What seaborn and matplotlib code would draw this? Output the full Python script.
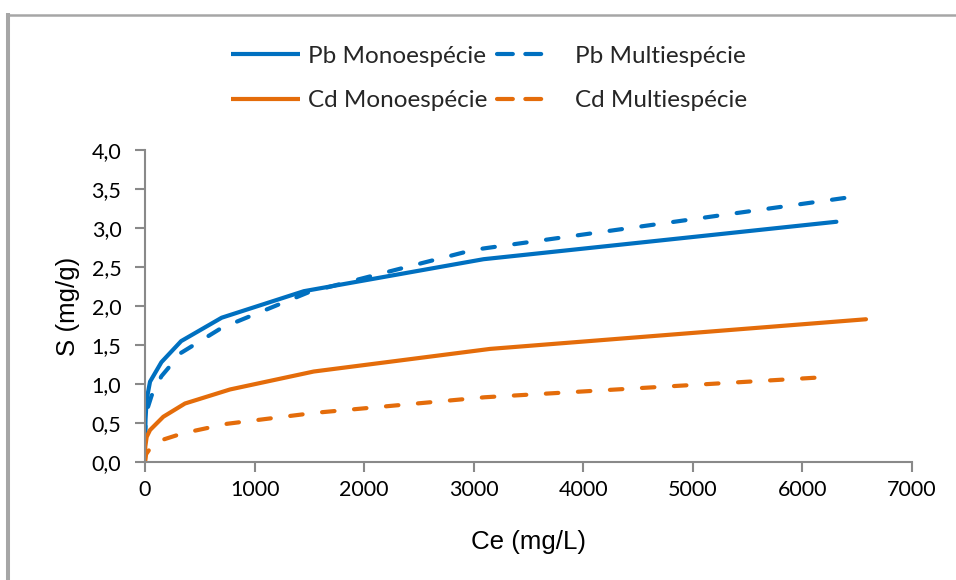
import matplotlib
matplotlib.use("Agg")
import matplotlib.pyplot as plt
from matplotlib.lines import Line2D
from matplotlib.ticker import FuncFormatter, MultipleLocator
import seaborn as sns

# Sorption isotherms: equilibrium concentration Ce (mg/L) vs sorbed amount S (mg/g)
pb_mono_ce = [0, 5, 15, 46, 150, 330, 700, 1450, 3090, 6310]
pb_mono_s = [0.28, 0.55, 0.80, 1.03, 1.28, 1.55, 1.85, 2.19, 2.60, 3.08]

pb_multi_ce = [0, 8, 60, 150, 330, 700, 1500, 3000, 6410]
pb_multi_s = [0.30, 0.62, 0.85, 1.10, 1.40, 1.72, 2.18, 2.72, 3.39]

cd_mono_ce = [0, 3, 15, 46, 167, 365, 776, 1540, 3150, 6580]
cd_mono_s = [0.00, 0.20, 0.32, 0.41, 0.58, 0.75, 0.93, 1.16, 1.45, 1.83]

cd_multi_ce = [0, 10, 60, 150, 350, 750, 1550, 3100, 6110]
cd_multi_s = [0.00, 0.10, 0.20, 0.28, 0.37, 0.49, 0.63, 0.83, 1.08]

labels = ["Pb Monoespécie", "Pb Multiespécie", "Cd Monoespécie", "Cd Multiespécie"]

BLUE = "#0070C0"
ORANGE = "#E46C0A"
AXIS_GRAY = "#898989"

sns.set_theme(style="white")
plt.rcParams["font.family"] = ["Lato", "DejaVu Sans"]

W, H = 956, 580
fig = plt.figure(figsize=(W / 100, H / 100), dpi=100)
fig.patch.set_facecolor("white")
ax = fig.add_axes([145 / W, 1 - 462 / H, (912 - 145) / W, (462 - 150) / H])

LW = 3.0
dash = (0, (3.0, 4.7))
series = [
    (pb_mono_ce, pb_mono_s, BLUE, "-", labels[0]),
    (pb_multi_ce, pb_multi_s, BLUE, dash, labels[1]),
    (cd_mono_ce, cd_mono_s, ORANGE, "-", labels[2]),
    (cd_multi_ce, cd_multi_s, ORANGE, dash, labels[3]),
]
for xs, ys, col, ls, lab in series:
    sns.lineplot(x=xs, y=ys, ax=ax, color=col, linewidth=LW, linestyle=ls,
                 estimator=None, sort=False, label=lab,
                 solid_capstyle="round", dash_capstyle="round",
                 solid_joinstyle="round", dash_joinstyle="round")

ax.set_xlim(0, 7000)
ax.set_ylim(0, 4.0)
ax.xaxis.set_major_locator(MultipleLocator(1000))
ax.yaxis.set_major_locator(MultipleLocator(0.5))
ax.yaxis.set_major_formatter(FuncFormatter(lambda v, _: f"{v:.1f}".replace(".", ",")))
ax.xaxis.set_major_formatter(FuncFormatter(lambda v, _: f"{v:.0f}"))

for side in ("top", "right"):
    ax.spines[side].set_visible(False)
for side in ("left", "bottom"):
    ax.spines[side].set_color(AXIS_GRAY)
    ax.spines[side].set_linewidth(1.5)

ax.tick_params(axis="both", direction="out", length=7, width=1.5, color=AXIS_GRAY,
               labelsize=15.5, labelcolor="black")
ax.tick_params(axis="y", pad=10, left=True)
ax.tick_params(axis="x", pad=6, bottom=True)

ax.set_xlabel("Ce (mg/L)", family="Liberation Sans", fontsize=18.6, color="black")
ax.set_ylabel("S (mg/g)", family="Liberation Sans", fontsize=18.6, color="black")
ax.xaxis.set_label_coords(0.5, -0.218)
ax.yaxis.set_label_coords((80 - 145) / 767, 0.5)

# Legend keys: solid and two-dash keys, laid out row by row
def key(col, dashed):
    if dashed:
        return Line2D([], [], color=col, linewidth=LW, dash_capstyle="round",
                      linestyle=(0, (3.8, 3.0, 3.8, 8.0)))
    return Line2D([], [], color=col, linewidth=LW, solid_capstyle="butt")

keys = {labels[0]: key(BLUE, False), labels[1]: key(BLUE, True),
        labels[2]: key(ORANGE, False), labels[3]: key(ORANGE, True)}
order = [labels[0], labels[2], labels[1], labels[3]]
ax.legend(handles=[keys[k] for k in order], labels=order, ncol=2,
          loc="center", bbox_to_anchor=(489 / W, 1 - 78.5 / H),
          bbox_transform=fig.transFigure, frameon=False, fontsize=17.5,
          handlelength=2.87, handletextpad=0.33, columnspacing=0.4,
          labelspacing=0.95)

# Outer chart frame (extends past the right and bottom edges)
frame_col = "#A6A6A6"
fig.add_artist(Line2D([8 / W, 8 / W], [1 - 13 / H, 0], transform=fig.transFigure,
                      color=frame_col, linewidth=2.9, solid_capstyle="butt"))
fig.add_artist(Line2D([6 / W, 1], [1 - 14.5 / H, 1 - 14.5 / H], transform=fig.transFigure,
                      color=frame_col, linewidth=1.8, solid_capstyle="butt"))

fig.savefig("out.png", dpi=100, facecolor="white")
